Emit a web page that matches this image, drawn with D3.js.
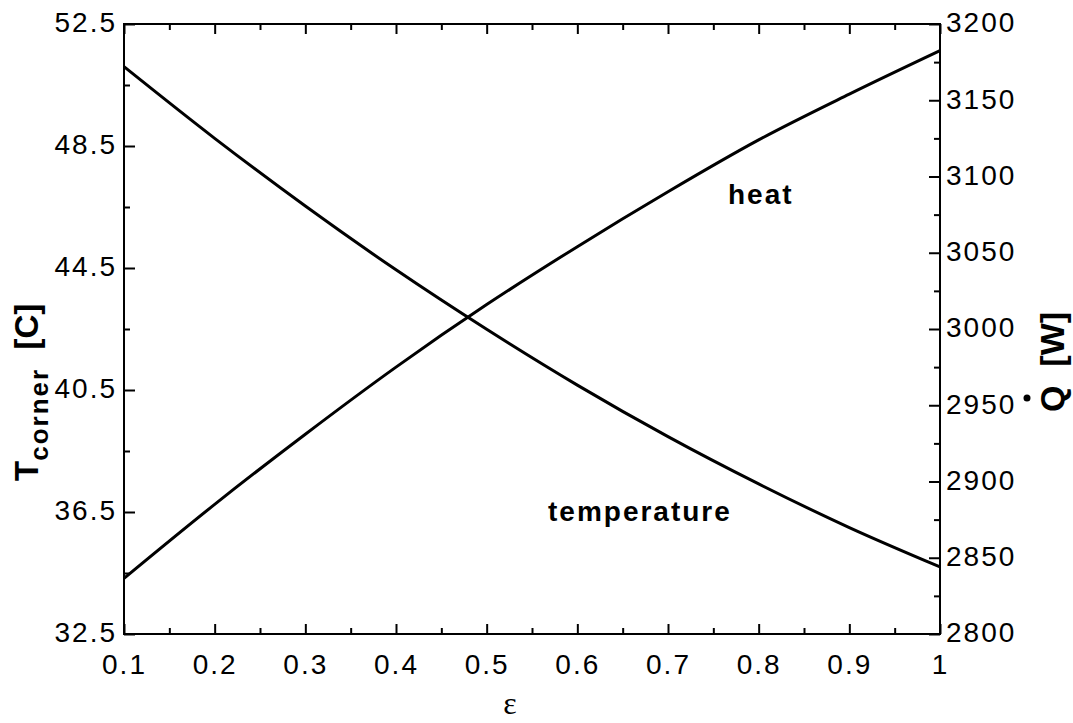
<!DOCTYPE html>
<html>
<head>
<meta charset="utf-8">
<script src="https://cdn.jsdelivr.net/npm/d3@7/dist/d3.min.js"></script>
<style>
  body { margin: 0; background: #fff; }
  svg { font-family: "Liberation Sans", Arial, sans-serif; }
</style>
</head>
<body>
<div id="chart"></div>
<script>
// values
var eps = [0.1, 0.2, 0.3, 0.4, 0.5, 0.6, 0.7, 0.8, 0.9, 1.0];
var tempC = [51.1, 48.75, 46.53, 44.44, 42.49, 40.66, 38.97, 37.42, 35.99, 34.7];
var heatW = [2836.5, 2885, 2931, 2975, 3016, 3054, 3090, 3124, 3154, 3182.5];

var xTicks = [0.1, 0.2, 0.3, 0.4, 0.5, 0.6, 0.7, 0.8, 0.9, 1];
var xMinor = [0.15, 0.25, 0.35, 0.45, 0.55, 0.65, 0.75, 0.85, 0.95];
var tTicks = [32.5, 36.5, 40.5, 44.5, 48.5, 52.5];
var tMinor = [34.5, 38.5, 42.5, 46.5, 50.5];
var qTicks = [2800, 2850, 2900, 2950, 3000, 3050, 3100, 3150, 3200];
var qMinor = [2825, 2875, 2925, 2975, 3025, 3075, 3125, 3175];

var W = 1073, H = 723;
var plot = {left: 124, right: 940, top: 24, bottom: 634};

var svg = d3.select("#chart").append("svg")
  .attr("width", W)
  .attr("height", H);

var x = d3.scaleLinear().domain([0.1, 1]).range([plot.left, plot.right]);
var yT = d3.scaleLinear().domain([32.5, 52.5]).range([plot.bottom, plot.top]);
var yQ = d3.scaleLinear().domain([2800, 3200]).range([plot.bottom, plot.top]);

function styleAxis(g, noLabels) {
  g.select(".domain").remove();
  g.selectAll(".tick line").attr("stroke", "#000").attr("stroke-width", 2);
  if (noLabels) g.selectAll(".tick text").remove();
  g.selectAll(".tick text")
    .attr("fill", "#000")
    .attr("font-size", 28)
    .attr("letter-spacing", "2px");
}

// bottom
svg.append("g")
  .attr("transform", "translate(0," + plot.bottom + ")")
  .call(d3.axisBottom(x).tickValues(xTicks).tickSize(-10).tickPadding(20).tickFormat(d => String(d)))
  .call(g => styleAxis(g));
svg.append("g")
  .attr("transform", "translate(0," + plot.bottom + ")")
  .call(d3.axisBottom(x).tickValues(xMinor).tickSize(-6))
  .call(g => styleAxis(g, true));
// top
svg.append("g")
  .attr("transform", "translate(0," + plot.top + ")")
  .call(d3.axisTop(x).tickValues(xTicks).tickSize(-10))
  .call(g => styleAxis(g, true));
svg.append("g")
  .attr("transform", "translate(0," + plot.top + ")")
  .call(d3.axisTop(x).tickValues(xMinor).tickSize(-6))
  .call(g => styleAxis(g, true));
// left
svg.append("g")
  .attr("transform", "translate(" + plot.left + ",0)")
  .call(d3.axisLeft(yT).tickValues(tTicks).tickSize(-11).tickPadding(7).tickFormat(d3.format(".1f")))
  .call(g => styleAxis(g))
  .call(g => g.selectAll(".tick text").attr("dy", "0.28em"));
svg.append("g")
  .attr("transform", "translate(" + plot.left + ",0)")
  .call(d3.axisLeft(yT).tickValues(tMinor).tickSize(-6))
  .call(g => styleAxis(g, true));
// right
svg.append("g")
  .attr("transform", "translate(" + plot.right + ",0)")
  .call(d3.axisRight(yQ).tickValues(qTicks).tickSize(-11).tickPadding(6).tickFormat(d => String(d)))
  .call(g => styleAxis(g))
  .call(g => g.selectAll(".tick text").attr("dy", "0.28em"));
svg.append("g")
  .attr("transform", "translate(" + plot.right + ",0)")
  .call(d3.axisRight(yQ).tickValues(qMinor).tickSize(-6))
  .call(g => styleAxis(g, true));

// frame
svg.append("rect")
  .attr("x", plot.left)
  .attr("y", plot.top)
  .attr("width", plot.right - plot.left)
  .attr("height", plot.bottom - plot.top)
  .attr("fill", "none")
  .attr("stroke", "#000")
  .attr("stroke-width", 2);

// curves
var tempLine = d3.line()
  .x((d, i) => x(eps[i]))
  .y(d => yT(d))
  .curve(d3.curveMonotoneX);
var heatLine = d3.line()
  .x((d, i) => x(eps[i]))
  .y(d => yQ(d))
  .curve(d3.curveMonotoneX);

svg.append("path")
  .attr("d", tempLine(tempC))
  .attr("fill", "none")
  .attr("stroke", "#000")
  .attr("stroke-width", 3);
svg.append("path")
  .attr("d", heatLine(heatW))
  .attr("fill", "none")
  .attr("stroke", "#000")
  .attr("stroke-width", 3);

// curve labels
svg.append("text")
  .attr("x", 728)
  .attr("y", 204)
  .attr("font-size", 28)
  .attr("font-weight", "bold")
  .attr("letter-spacing", "2px")
  .text("heat");
svg.append("text")
  .attr("x", 548)
  .attr("y", 521)
  .attr("font-size", 28)
  .attr("font-weight", "bold")
  .attr("letter-spacing", "2px")
  .text("temperature");

// x title
svg.append("text")
  .attr("x", 510)
  .attr("y", 714)
  .attr("text-anchor", "middle")
  .attr("font-family", "'Liberation Serif', serif")
  .attr("font-size", 32)
  .text("ε");

// left title
var lt = svg.append("text")
  .attr("transform", "translate(38,481) rotate(-90)")
  .attr("font-weight", "bold")
  .attr("font-size", 33);
lt.append("tspan").text("T");
lt.append("tspan").attr("dy", 10).attr("font-size", 26).attr("letter-spacing", "2px").text("corner");
lt.append("tspan").attr("dy", -10).attr("xml:space", "preserve").text("  [C]");

// right title
var rt = svg.append("text")
  .attr("transform", "translate(1064,412) rotate(-90)")
  .attr("font-weight", "bold")
  .attr("font-size", 34)
  .attr("xml:space", "preserve")
  .text("Q  [W]");
svg.append("circle")
  .attr("cx", 1027)
  .attr("cy", 398)
  .attr("r", 3.5)
  .attr("fill", "#000");
</script>
</body>
</html>
